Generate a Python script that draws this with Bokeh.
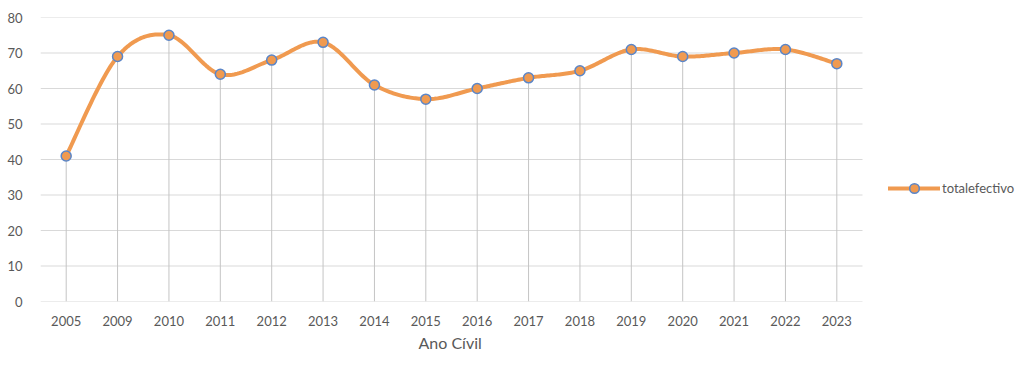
import numpy as np
from bokeh.plotting import figure
from bokeh.models import FixedTicker, Legend, LegendItem, Range1d, Title
from bokeh.embed import file_html
from bokeh.resources import INLINE

years = ["2005", "2009", "2010", "2011", "2012", "2013", "2014", "2015",
         "2016", "2017", "2018", "2019", "2020", "2021", "2022", "2023"]
totalefectivo = [41, 69, 75, 64, 68, 73, 61, 57, 60, 63, 65, 71, 69, 70, 71, 67]
y_ticks = [0, 10, 20, 30, 40, 50, 60, 70, 80]

FONT = "Lato"
TXT = "#595959"
ORANGE = "#F09A50"
BLUE = "#5B86C8"

xs = np.arange(len(years), dtype=float)
ys = np.array(totalefectivo, dtype=float)

# Catmull-Rom smoothing (like Excel's smoothed line)
def smooth(x, y, n=30):
    px = np.concatenate([[x[0]], x, [x[-1]]])
    py = np.concatenate([[y[0]], y, [y[-1]]])
    ox, oy = [], []
    for i in range(1, len(px) - 2):
        p0x, p1x, p2x, p3x = px[i-1], px[i], px[i+1], px[i+2]
        p0y, p1y, p2y, p3y = py[i-1], py[i], py[i+1], py[i+2]
        c1x, c1y = p1x + (p2x - p0x) / 6, p1y + (p2y - p0y) / 6
        c2x, c2y = p2x - (p3x - p1x) / 6, p2y - (p3y - p1y) / 6
        t = np.linspace(0, 1, n, endpoint=(i == len(px) - 3))
        b0, b1, b2, b3 = (1-t)**3, 3*(1-t)**2*t, 3*(1-t)*t**2, t**3
        ox.extend(b0*p1x + b1*c1x + b2*c2x + b3*p2x)
        oy.extend(b0*p1y + b1*c1y + b2*c2y + b3*p2y)
    return ox, oy

sx, sy = smooth(xs, ys)

PLOT_W = 822          # width of the plotting area in px
FRAME_W = 980         # frame extends to the right to hold the legend
n = len(years)
x_lo = -0.5
x_hi = x_lo + n * FRAME_W / PLOT_W
x_end = n - 0.5

p = figure(frame_width=FRAME_W, frame_height=284, output_backend="svg", toolbar_location=None,
           x_range=Range1d(x_lo, x_hi), y_range=Range1d(0, 80),
           min_border_left=40, min_border_top=17, min_border_bottom=10,
           min_border_right=0)
p.outline_line_color = None
p.background_fill_color = "white"
p.border_fill_color = "white"

p.xgrid.grid_line_color = None
p.ygrid.grid_line_color = None
p.yaxis.ticker = FixedTicker(ticks=y_ticks)
p.xaxis.ticker = FixedTicker(ticks=list(range(n)))
p.xaxis.major_label_overrides = {i: y for i, y in enumerate(years)}

# horizontal gridlines limited to the plot area
gy = np.array(y_ticks[1:], dtype=float)
p.segment(x0=np.full_like(gy, x_lo), y0=gy, x1=np.full_like(gy, x_end), y1=gy,
          line_color="#D9D9D9", line_width=1)
# category axis line
p.segment(x0=[x_lo], y0=[0], x1=[x_end], y1=[0], line_color="#D9D9D9", line_width=1)

# drop lines
p.segment(x0=xs, y0=np.zeros_like(ys), x1=xs, y1=ys, line_color="#C4C4C4", line_width=1)

line_r = p.line(sx, sy, line_color=ORANGE, line_width=4, line_cap="round", line_join="round")
circ_r = p.scatter(xs, ys, marker="circle", size=10, fill_color=ORANGE, line_color=BLUE, line_width=1.5)

for ax in (p.xaxis, p.yaxis):
    ax.major_tick_line_color = None
    ax.minor_tick_line_color = None
    ax.axis_line_color = None
    ax.major_label_text_font = FONT
    ax.major_label_text_font_size = "13px"
    ax.major_label_text_color = TXT
p.yaxis.major_label_standoff = 12
p.xaxis.major_label_standoff = 8

p.add_layout(Title(text="Ano Cívil", align="left", offset=378, text_font=FONT,
                   text_font_size="16px", text_font_style="normal", text_color=TXT,
                   standoff=4), "below")

legend = Legend(items=[LegendItem(label="totalefectivo", renderers=[line_r, circ_r])],
                location=(848, 101), glyph_width=52, glyph_height=24,
                label_text_font=FONT, label_text_font_size="13px", label_text_color=TXT,
                border_line_color=None, background_fill_alpha=0, label_standoff=2,
                padding=0, margin=0)
p.add_layout(legend, "center")

open("out.html", "w").write(file_html(p, INLINE))
